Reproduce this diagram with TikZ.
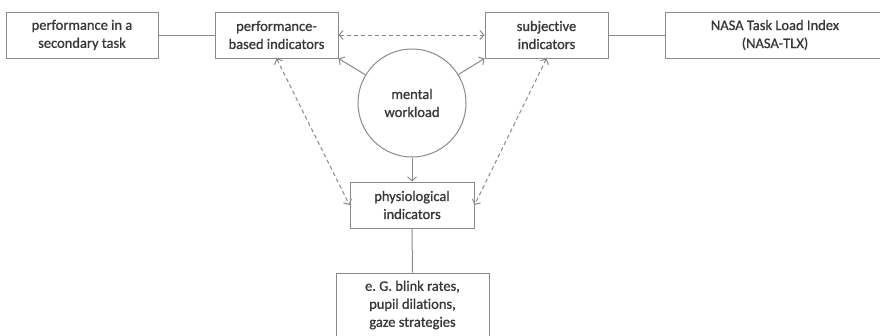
\documentclass[tikz,border=0pt]{standalone}
\usepackage{fontspec}
\setmainfont{Carlito}[Ligatures=NoCommon, FakeBold=0.9]
\usetikzlibrary{arrows.meta}
\definecolor{linegray}{HTML}{8A8A8A}
\definecolor{textgray}{HTML}{383838}
\begin{document}
\begin{tikzpicture}[x=1pt,y=-1pt,
  every node/.style={text=textgray, font=\fontsize{14.5}{18}\selectfont, align=center},
  box/.style={draw=linegray, line width=1pt, minimum height=46pt, inner sep=0pt},
  link/.style={draw=linegray, line width=1pt},
  arr/.style={link, -{Straight Barb[length=4pt,width=9pt]}},
  darr/.style={link, dash pattern=on 4pt off 3pt,
    {Straight Barb[length=4pt,width=9pt]}-{Straight Barb[length=4pt,width=9pt]}}]
\useasboundingbox (0,0) rectangle (880,335);
\fill[white] (0,0) rectangle (880,335);

% indicator boxes
\node[box, minimum width=152pt] (sec)  at (82,35)    {performance in a\\secondary task};
\node[box, minimum width=123pt] (perf) at (276.5,35) {performance-\\based indicators};
\node[box, minimum width=123pt] (subj) at (546.5,35) {subjective\\indicators};
\node[box, minimum width=220pt] (tlx)  at (775,35)   {NASA Task Load Index\\(NASA-TLX)};
\node[box, minimum width=124pt] (phys) at (412,205)  {physiological\\indicators};
\node[box, minimum width=153pt, minimum height=64pt] (eg) at (412.5,305)
  {e.\ G. blink rates,\\pupil dilations,\\gaze strategies};

% central concept
\node[draw=linegray, line width=1pt, circle, minimum size=108pt, inner sep=0pt]
  (mw) at (412,103) {mental\\workload};

% plain links
\draw[link] (sec.east) -- (perf.west);
\draw[link] (subj.east) -- (tlx.west);
\draw[link] (phys.south) -- (eg.north);

% influence of workload
\draw[arr] (mw) -- (perf.south east);
\draw[arr] (mw) -- (subj.south west);
\draw[arr] (mw) -- (phys.north);

% mutual relations
\draw[darr] (perf.east) -- (subj.west);
\draw[darr] (perf.south) -- (phys.west);
\draw[darr] (subj.south) -- (phys.east);
\end{tikzpicture}
\end{document}
